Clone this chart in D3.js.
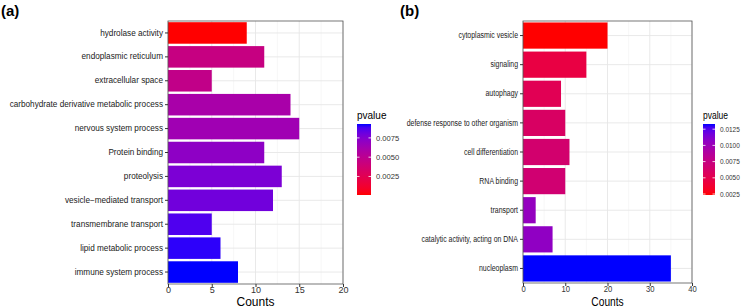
<!doctype html>
<html>
<head>
<meta charset="utf-8">
<title>GO enrichment bars</title>
<script src="https://cdn.jsdelivr.net/npm/d3@7/dist/d3.min.js"></script>
<style>
  body { margin: 0; background: #fff; }
  svg { display: block; font-family: "Liberation Sans", Arial, sans-serif; }
</style>
</head>
<body>
<svg width="741" height="308"></svg>
<script>
// panel (a) data
var termsA = ["hydrolase activity", "endoplasmic reticulum", "extracellular space",
  "carbohydrate derivative metabolic process", "nervous system process", "Protein binding",
  "proteolysis", "vesicle\u2212mediated transport", "transmembrane transport",
  "lipid metabolic process", "immune system process"];
var countsA = [9, 11, 5, 14, 15, 11, 13, 12, 5, 6, 8];
var pvalA = [0.0001, 0.0044, 0.0047, 0.0060, 0.0064, 0.0071, 0.0077, 0.0080, 0.0087, 0.0091, 0.0093];
var xTicksA = [0, 5, 10, 15, 20];
var legendTicksA = [0.0025, 0.0050, 0.0075];

// panel (b) data
var termsB = ["cytoplasmic vesicle", "signaling", "autophagy", "defense response to other organism",
  "cell differentiation", "RNA binding", "transport", "catalytic activity, acting on DNA", "nucleoplasm"];
var countsB = [20, 15, 9, 10, 11, 10, 3, 7, 35];
var pvalB = [0.00235, 0.0045, 0.0053, 0.0060, 0.0065, 0.0067, 0.0104, 0.0106, 0.0133];
var xTicksB = [0, 10, 20, 30, 40];
var legendTicksB = [0.0025, 0.0050, 0.0075, 0.0100, 0.0125];

var svg = d3.select("svg");
var defs = svg.append("defs");
var lab = d3.interpolateLab("red", "blue");
var FONT = "'Liberation Sans', Arial, sans-serif";

// one bar panel + its colour legend
function drawPanel(opt) {
  var terms = opt.terms, counts = opt.counts, pv = opt.pvals;
  var sx = opt.squeeze; // horizontal squeeze of text in the original image

  var x = d3.scaleLinear().domain(opt.xDomain).range([opt.left, opt.right]);
  var y = d3.scaleBand().domain(terms).range([opt.top, opt.bottom]).paddingInner(0.1).paddingOuter(0.05);
  var pExt = d3.extent(pv);
  var col = d3.scaleLinear().domain(pExt).range([0, 1]);

  var g = svg.append("g");

  // minor + major vertical grid
  var minor = [];
  for (var i = 0; i < opt.xTicks.length - 1; i++) minor.push((opt.xTicks[i] + opt.xTicks[i + 1]) / 2);
  g.selectAll(".minor").data(minor).enter().append("line")
    .attr("x1", function(d) { return x(d); }).attr("x2", function(d) { return x(d); })
    .attr("y1", opt.top).attr("y2", opt.bottom)
    .attr("stroke", "#f2f2f2").attr("stroke-width", 0.6);
  g.selectAll(".major").data(opt.xTicks).enter().append("line")
    .attr("x1", function(d) { return x(d); }).attr("x2", function(d) { return x(d); })
    .attr("y1", opt.top).attr("y2", opt.bottom)
    .attr("stroke", "#e6e6e6").attr("stroke-width", 0.9);
  g.selectAll(".hgrid").data(terms).enter().append("line")
    .attr("x1", opt.left).attr("x2", opt.right)
    .attr("y1", function(d) { return y(d) + y.bandwidth() / 2; })
    .attr("y2", function(d) { return y(d) + y.bandwidth() / 2; })
    .attr("stroke", "#e6e6e6").attr("stroke-width", 0.9);

  // bars
  g.selectAll("rect.bar").data(terms).enter().append("rect")
    .attr("class", "bar")
    .attr("x", x(0))
    .attr("y", function(d) { return y(d); })
    .attr("height", y.bandwidth())
    .attr("width", function(d, i) { return x(counts[i]) - x(0); })
    .attr("fill", function(d, i) { return lab(col(pv[i])); });

  // panel border
  g.append("rect")
    .attr("x", opt.left).attr("y", opt.top)
    .attr("width", opt.right - opt.left).attr("height", opt.bottom - opt.top)
    .attr("fill", "none").attr("stroke", "#555").attr("stroke-width", 0.8);

  // y axis
  var ya = g.append("g")
    .attr("transform", "translate(" + opt.left + ",0)")
    .call(d3.axisLeft(y).tickSize(3).tickPadding(2))
    .attr("font-family", FONT);
  ya.select(".domain").remove();
  ya.selectAll("line").attr("stroke", "#333");
  ya.selectAll("text")
    .attr("fill", "#1a1a1a")
    .style("font-size", opt.labelSize + "px")
    .attr("x", -5 / sx)
    .attr("transform", "scale(" + sx + ",1)");

  // x axis
  var xa = g.append("g")
    .attr("transform", "translate(0," + opt.bottom + ")")
    .call(d3.axisBottom(x).tickValues(opt.xTicks).tickSize(3).tickPadding(0))
    .attr("font-family", FONT);
  xa.select(".domain").remove();
  xa.selectAll("line").attr("stroke", "#333");
  xa.selectAll("text")
    .attr("fill", "#333")
    .style("font-size", "9px")
    .attr("transform", "scale(" + sx + ",1)");

  g.append("text")
    .attr("transform", "translate(" + ((opt.left + opt.right) / 2) + ",306) scale(" + sx + ",1)")
    .attr("text-anchor", "middle")
    .style("font-size", "12px")
    .text("Counts");

  // colour legend
  var L = opt.legend;
  g.append("text")
    .attr("transform", "translate(" + L.x + ",119) scale(" + sx + ",1)")
    .style("font-size", "10px")
    .text("pvalue");

  var gid = "grad" + opt.id;
  var grad = defs.append("linearGradient").attr("id", gid)
    .attr("x1", 0).attr("y1", 1).attr("x2", 0).attr("y2", 0);
  d3.range(0, 1.0001, 0.05).forEach(function(t) {
    grad.append("stop").attr("offset", t).attr("stop-color", lab(t));
  });
  var ly = d3.scaleLinear().domain(pExt).range([L.bottom, L.top]);
  g.append("rect")
    .attr("x", L.x).attr("y", L.top)
    .attr("width", L.w).attr("height", L.bottom - L.top)
    .attr("fill", "url(#" + gid + ")");

  var lt = g.selectAll(".lt").data(opt.legendTicks).enter().append("g")
    .attr("transform", function(d) { return "translate(0," + ly(d) + ")"; });
  lt.append("line").attr("x1", L.x).attr("x2", L.x + 2.5).attr("stroke", "#fff").attr("stroke-width", 0.8);
  lt.append("line").attr("x1", L.x + L.w - 2.5).attr("x2", L.x + L.w).attr("stroke", "#fff").attr("stroke-width", 0.8);
  lt.append("text")
    .attr("transform", "translate(" + (L.x + L.w + 5) + ",0) scale(" + sx + ",1)")
    .attr("dy", "0.35em")
    .attr("fill", "#333")
    .style("font-size", "7.6px")
    .text(function(d) { return d3.format(".4f")(d); });

  // panel tag
  svg.append("text")
    .attr("x", opt.tagX).attr("y", 16)
    .style("font-size", "15px").style("font-weight", "bold")
    .text(opt.tag);
}

drawPanel({
  id: "a", tag: "(a)", tagX: 1,
  terms: termsA, counts: countsA, pvals: pvalA,
  xDomain: [0, 20], xTicks: xTicksA,
  left: 168, right: 343, top: 21, bottom: 284,
  labelSize: 8.2, squeeze: 1,
  legend: { x: 357, w: 14, top: 124, bottom: 195 },
  legendTicks: legendTicksA
});

drawPanel({
  id: "b", tag: "(b)", tagX: 400,
  terms: termsB, counts: countsB, pvals: pvalB,
  xDomain: [0, 40], xTicks: xTicksB,
  left: 523, right: 692, top: 21, bottom: 283,
  labelSize: 8.2, squeeze: 0.85,
  legend: { x: 703, w: 12, top: 124, bottom: 195 },
  legendTicks: legendTicksB
});
</script>
</body>
</html>
